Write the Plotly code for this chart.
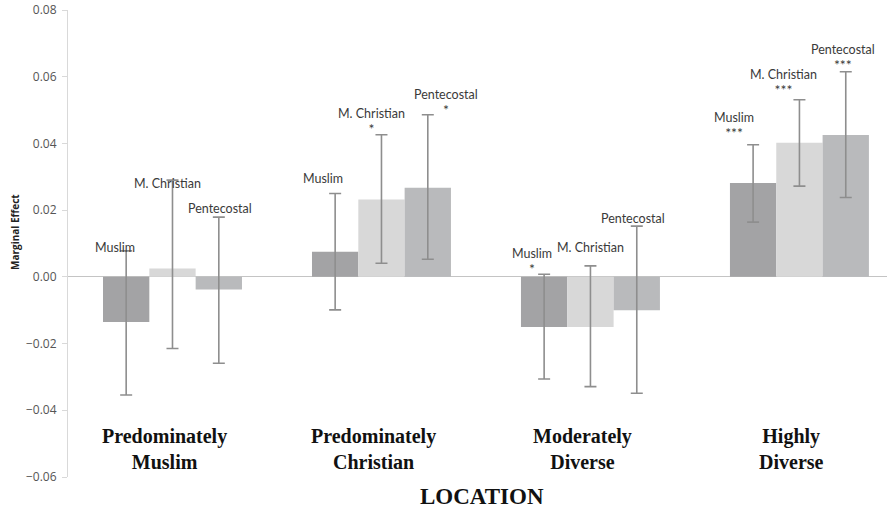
import plotly.graph_objects as go

# ---- data ----
locations = ["Predominately<br>Muslim", "Predominately<br>Christian", "Moderately<br>Diverse", "Highly<br>Diverse"]
series_names = ["Muslim", "M. Christian", "Pentecostal"]

muslim_val = [-0.0135, 0.0075, -0.0150, 0.0281]
muslim_hi = [0.0078, 0.0250, 0.0008, 0.0396]
muslim_lo = [-0.0354, -0.0099, -0.0306, 0.0164]

mchristian_val = [0.0025, 0.0232, -0.0150, 0.0402]
mchristian_hi = [0.0290, 0.0426, 0.0033, 0.0531]
mchristian_lo = [-0.0215, 0.0041, -0.0329, 0.0272]

pentecostal_val = [-0.0038, 0.0267, -0.0100, 0.0425]
pentecostal_hi = [0.0179, 0.0486, 0.0152, 0.0615]
pentecostal_lo = [-0.0259, 0.0053, -0.0349, 0.0238]

# significance stars per series per location
muslim_sig = ["", "", "*", "***"]
mchristian_sig = ["", "*", "", "***"]
pentecostal_sig = ["", "*", "", "***"]

y_ticks = [-0.06, -0.04, -0.02, 0.00, 0.02, 0.04, 0.06, 0.08]

# ---- styles ----
colors = ["#a3a3a5", "#d8d8d8", "#b9babc"]
err_color = "#8e8e8e"
label_font = dict(family="Lato, Open Sans, sans-serif", size=12.5, color="#3a3a3a")

# label layout positions (x offset from category index, y of label text centre in data units)
label_layout = {
    "Muslim": [(-0.275, 0.0089), (-0.280, 0.0295), (-0.280, 0.0071), (-0.313, 0.0478)],
    "M. Christian": [(-0.026, 0.0280), (-0.050, 0.0492), (0.002, 0.0089), (-0.074, 0.0609)],
    "Pentecostal": [(0.227, 0.0205), (0.309, 0.0549), (0.203, 0.0176), (0.209, 0.0684)],
}
half_line = 0.0025  # half a text line in data units

fig = go.Figure()
all_series = [
    ("Muslim", muslim_val, muslim_hi, muslim_lo, muslim_sig),
    ("M. Christian", mchristian_val, mchristian_hi, mchristian_lo, mchristian_sig),
    ("Pentecostal", pentecostal_val, pentecostal_hi, pentecostal_lo, pentecostal_sig),
]
for i, (name, val, hi, lo, sig) in enumerate(all_series):
    fig.add_trace(go.Bar(
        x=locations, y=val, name=name,
        marker=dict(color=colors[i], line=dict(width=0)),
        error_y=dict(type="data", symmetric=False,
                     array=[h - v for h, v in zip(hi, val)],
                     arrayminus=[v - l for v, l in zip(val, lo)],
                     color=err_color, thickness=1.6, width=6),
    ))

annotations = []
for name, val, hi, lo, sig in all_series:
    for k in range(len(locations)):
        dx, yy = label_layout[name][k]
        if sig[k]:
            text = name + "<br><span style='font-size:14px'>" + sig[k] + "</span>"
            ypos = yy - half_line
        else:
            text = name
            ypos = yy
        annotations.append(dict(x=k + dx, y=ypos, xref="x", yref="y", text=text,
                                showarrow=False, font=label_font,
                                xanchor="center", yanchor="middle"))

cat_font = dict(family="Liberation Serif, serif", size=20, color="#111111")
for k, loc in enumerate(locations):
    annotations.append(dict(x=k - 0.04, y=-0.0515, xref="x", yref="y",
                            text="<b>" + loc.replace("<br>", "</b><br><b>") + "</b>",
                            showarrow=False, font=cat_font, xanchor="center", yanchor="middle"))

annotations.append(dict(x=0.506, y=-0.0407, xref="paper", yref="paper", text="<b>LOCATION</b>",
                        showarrow=False, font=dict(family="Liberation Serif, serif", size=23, color="#111111"),
                        xanchor="center", yanchor="middle"))
annotations.append(dict(x=-0.0647, y=0.5246, xref="paper", yref="paper", text="<b>Marginal Effect</b>",
                        textangle=-90, showarrow=False,
                        font=dict(family="Open Sans, sans-serif", size=10, color="#222222"),
                        xanchor="center", yanchor="middle"))

fig.update_layout(
    width=887, height=510,
    margin=dict(l=68, r=0, t=10, b=33),
    plot_bgcolor="white", paper_bgcolor="white",
    barmode="group", bargap=0.335, bargroupgap=0,
    showlegend=False,
    annotations=annotations,
    xaxis=dict(range=[-0.5, 3.419], showticklabels=False, showline=False,
               showgrid=False, zeroline=False, ticks=""),
    yaxis=dict(range=[-0.06, 0.08], tickvals=y_ticks, tickformat=".2f",
               showgrid=False, zeroline=True, zerolinecolor="#c4c4c4", zerolinewidth=1,
               showline=True, linecolor="#d9d9d9", linewidth=1,
               ticks="outside", ticklen=5, tickcolor="#d9d9d9", ticklabelstandoff=3,
               tickfont=dict(family="Open Sans, sans-serif", size=12, color="#555555")),
)

fig.write_html("out.html", config={"displayModeBar": False},
               post_script="document.body.style.margin='0';")
